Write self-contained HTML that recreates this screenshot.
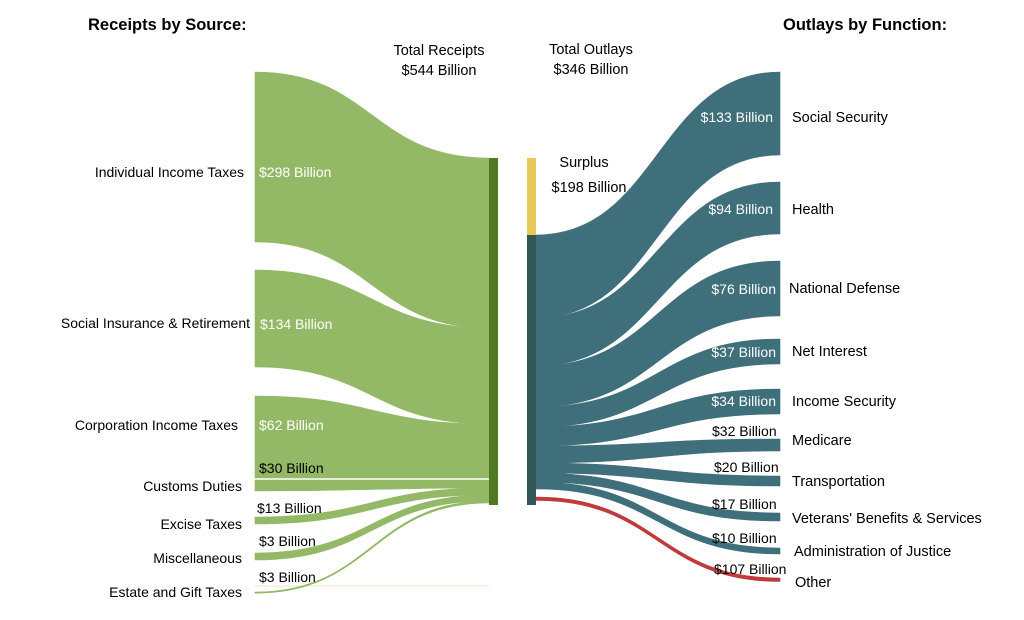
<!DOCTYPE html>
<html><head><meta charset="utf-8">
<style>
body{margin:0;background:#fff;width:1024px;height:615px;overflow:hidden}
svg{font-family:"Liberation Sans",Arial,sans-serif}
</style></head><body>
<svg id="s" width="1024" height="615" xmlns="http://www.w3.org/2000/svg">
<line x1="255" y1="586" x2="489" y2="586" stroke="#f3efdc" stroke-width="1.5"/>
<g id="flows"></g>
<rect x="489" y="158" width="9" height="347" fill="#4f7a21"/>
<rect x="527" y="158" width="9" height="77" fill="#e8c95a"/>
<rect x="527" y="235" width="9" height="270" fill="#325656"/>
<g font-size="14.5" fill="#000">
<text x="88" y="30" font-weight="bold" font-size="16.5">Receipts by Source:</text>
<text x="783" y="30" font-weight="bold" font-size="16.5">Outlays by Function:</text>
<text x="439" y="55" text-anchor="middle">Total Receipts</text>
<text x="439" y="75" text-anchor="middle">$544 Billion</text>
<text x="591" y="54" text-anchor="middle">Total Outlays</text>
<text x="591" y="74" text-anchor="middle">$346 Billion</text>
<text x="584" y="167" text-anchor="middle">Surplus</text>
<text x="589" y="192" text-anchor="middle">$198 Billion</text>
<g font-size="14" text-anchor="end">
<text x="244" y="177">Individual Income Taxes</text>
<text x="250" y="328">Social Insurance &amp; Retirement</text>
<text x="238" y="430">Corporation Income Taxes</text>
<text x="242" y="491">Customs Duties</text>
<text x="242" y="529">Excise Taxes</text>
<text x="242" y="563">Miscellaneous</text>
<text x="242" y="597">Estate and Gift Taxes</text>
</g>
<g font-size="14">
<text x="259" y="473">$30 Billion</text>
<text x="257" y="513">$13 Billion</text>
<text x="259" y="546">$3 Billion</text>
<text x="259" y="582">$3 Billion</text>
<text x="714" y="472">$20 Billion</text>
<text x="712" y="509">$17 Billion</text>
<text x="712" y="543">$10 Billion</text>
<text x="714" y="574">$107 Billion</text>
<text x="712" y="436">$32 Billion</text>
</g>
<g font-size="14" fill="#fff">
<text x="259" y="177">$298 Billion</text>
<text x="260" y="329">$134 Billion</text>
<text x="259" y="430">$62 Billion</text>
<text x="773" y="122" text-anchor="end">$133 Billion</text>
<text x="773" y="214" text-anchor="end">$94 Billion</text>
<text x="776" y="294" text-anchor="end">$76 Billion</text>
<text x="776" y="357" text-anchor="end">$37 Billion</text>
<text x="776" y="406" text-anchor="end">$34 Billion</text>
</g>
<g font-size="14.5">
<text x="792" y="122">Social Security</text>
<text x="792" y="214">Health</text>
<text x="789" y="293">National Defense</text>
<text x="792" y="356">Net Interest</text>
<text x="792" y="406">Income Security</text>
<text x="792" y="445">Medicare</text>
<text x="792" y="486">Transportation</text>
<text x="792" y="523">Veterans' Benefits &amp; Services</text>
<text x="794" y="556">Administration of Justice</text>
<text x="795" y="587">Other</text>
</g>
</g>
</svg>
<script>
var g=document.getElementById('flows'),ns='http://www.w3.org/2000/svg';
function band(x0,a0,b0,x1,a1,b1,c){
 var m=(x0+x1)/2,p=document.createElementNS(ns,'path');
 p.setAttribute('d','M'+x0+','+a0+' C'+m+','+a0+' '+m+','+a1+' '+x1+','+a1+' L'+x1+','+b1+' C'+m+','+b1+' '+m+','+b0+' '+x0+','+b0+'Z');
 p.setAttribute('fill',c);p.setAttribute('stroke',c);p.setAttribute('stroke-width','0.6');g.appendChild(p);
}
var G='#93b866';
[[72,242,158,328],[270,367,328,424],[396,478,424,478],[480,491,480,488],[517,524,488,495],[553,560,495,501],[592,593.2,501,503]].forEach(function(r){band(255,r[0],r[1],489,r[2],r[3],G)});
var T='#3e6f7a';
[[235,318,72,155],[318,366,182,234],[366,407,261,316],[407,427,339,364],[427,446,389,414],[446,463,439,451],[463,473,476,486],[473,482,513,521],[482,489,548,554]].forEach(function(r){band(536,r[0],r[1],780,r[2],r[3],T)});
band(536,497,500.5,780,578,581.5,'#c0393b');
</script>
</body></html>
